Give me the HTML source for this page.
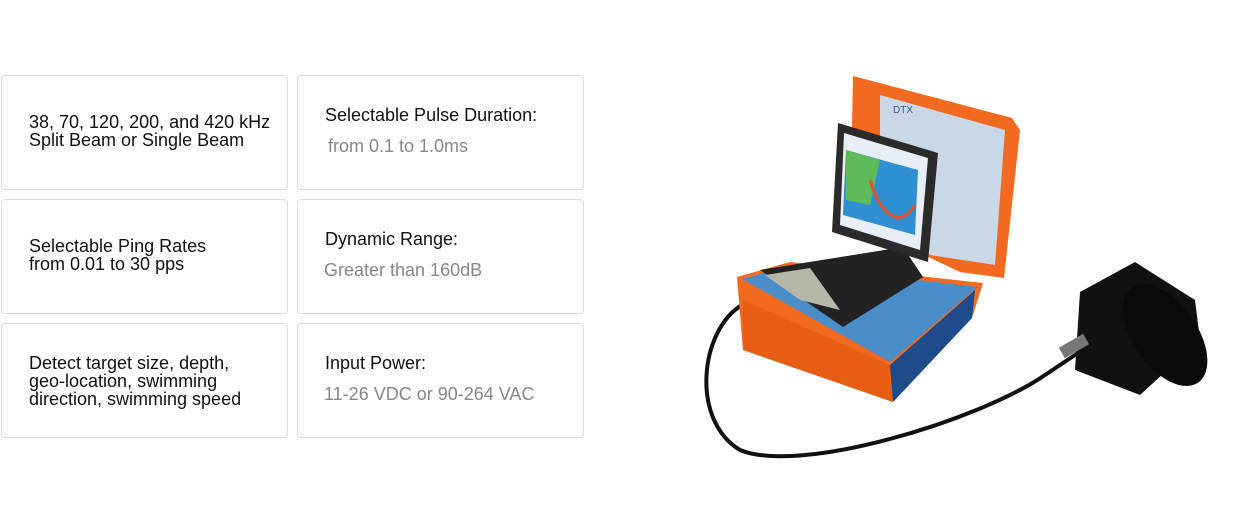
<!DOCTYPE html>
<html><head><style>
body{margin:0;width:1250px;height:512px;background:#fff;position:relative;overflow:hidden;font-family:"Liberation Sans",Arial,sans-serif;}
.c{position:absolute;border:1px solid #dcdcdc;border-radius:4px;box-sizing:border-box;}
.t{position:absolute;font-size:18px;line-height:18px;color:#111;white-space:nowrap;}
.g{color:#888;}
</style></head><body>
<div class="c" style="left:1px;top:75px;width:287px;height:115px"></div>
<div class="c" style="left:297px;top:75px;width:287px;height:115px"></div>
<div class="c" style="left:1px;top:199px;width:287px;height:115px"></div>
<div class="c" style="left:297px;top:199px;width:287px;height:115px"></div>
<div class="c" style="left:1px;top:323px;width:287px;height:115px"></div>
<div class="c" style="left:297px;top:323px;width:287px;height:115px"></div>

<div class="t" style="left:29px;top:113px">38, 70, 120, 200, and 420 kHz<br>Split Beam or Single Beam</div>
<div class="t" style="left:325px;top:106px">Selectable Pulse Duration:</div>
<div class="t g" style="left:328px;top:137px">from 0.1 to 1.0ms</div>
<div class="t" style="left:29px;top:237px">Selectable Ping Rates<br>from 0.01 to 30 pps</div>
<div class="t" style="left:325px;top:230px">Dynamic Range:</div>
<div class="t g" style="left:324px;top:261px">Greater than 160dB</div>
<div class="t" style="left:29px;top:354px">Detect target size, depth,<br>geo-location, swimming<br>direction, swimming speed</div>
<div class="t" style="left:325px;top:354px">Input Power:</div>
<div class="t g" style="left:324px;top:385px">11-26 VDC or 90-264 VAC</div>

<svg style="position:absolute;left:0;top:0" width="1250" height="512">
<path d="M742,305 C700,330 690,420 740,450 C800,475 980,420 1045,375 L1090,345" fill="none" stroke="#111" stroke-width="4"/>
<polygon points="853,76 1012,118 1020,130 1004,278 960,272 850,220" fill="#f26a1f"/>
<polygon points="880,95 1005,130 995,265 930,255 880,200" fill="#c9d7e6"/>
<text x="893" y="113" font-size="10" fill="#3a5b8c" font-family="Liberation Sans">DTX</text>
<polygon points="737,277 790,262 983,283 972,318 893,402 743,350" fill="#f26a1f"/>
<polygon points="742,279 793,265 977,287 890,362" fill="#4a8ec9"/>
<polygon points="743,300 890,365 893,402 743,350" fill="#e85d14"/>
<polygon points="890,365 975,290 972,318 893,402" fill="#1e4c8a"/>
<polygon points="760,270 903,247 923,277 843,327" fill="#222"/>
<polygon points="765,275 810,268 840,310 800,300" fill="#b5b8a8"/>
<polygon points="838,123 938,153 928,262 832,232" fill="#2a2a2a"/>
<polygon points="844,133 928,158 920,250 840,225" fill="#e8eef5"/>
<polygon points="846,150 918,170 915,235 843,215" fill="#2f8fd0"/>
<polygon points="846,150 880,160 870,205 846,200" fill="#5dbb5a"/>
<path d="M870,180 C880,215 900,230 915,205" stroke="#e8502a" stroke-width="3" fill="none"/>
<polygon points="1080,292 1135,262 1195,300 1200,340 1140,395 1075,370" fill="#111"/>
<ellipse cx="1165" cy="335" rx="32" ry="58" transform="rotate(-35 1165 335)" fill="#0a0a0a"/>
<rect x="1060" y="340" width="28" height="12" fill="#777" transform="rotate(-30 1074 346)"/>
</svg>
</body></html>
